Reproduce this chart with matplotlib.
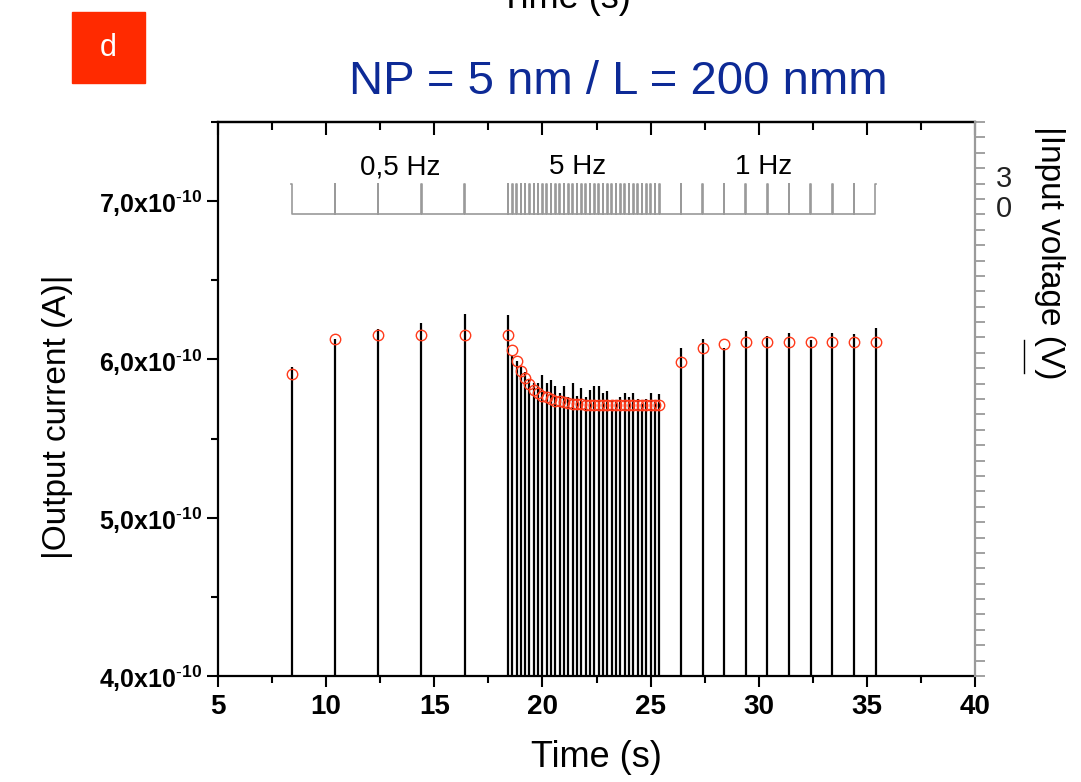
import numpy as np
import matplotlib
matplotlib.use('Agg')
import matplotlib.pyplot as plt
import matplotlib.transforms as mtransforms
from matplotlib.ticker import MultipleLocator, FuncFormatter, FixedLocator, NullFormatter
from matplotlib.lines import Line2D
from matplotlib.patches import Rectangle

plt.rcParams['font.family'] = ['Liberation Sans', 'DejaVu Sans']
plt.rcParams['mathtext.fontset'] = 'custom'
plt.rcParams['mathtext.rm'] = 'Liberation Sans'
plt.rcParams['mathtext.bf'] = 'Liberation Sans:bold'

# pulse times (s)
t_05hz = [8.4, 10.4, 12.4, 14.4, 16.4]
t_5hz = [18.4, 18.6, 18.8, 19.0, 19.2, 19.4, 19.6, 19.8, 20.0, 20.2, 20.4, 20.6,
         20.8, 21.0, 21.2, 21.4, 21.6, 21.8, 22.0, 22.2, 22.4, 22.6, 22.8, 23.0,
         23.2, 23.4, 23.6, 23.8, 24.0, 24.2, 24.4, 24.6, 24.8, 25.0, 25.2, 25.4]
t_1hz = [26.4, 27.4, 28.4, 29.4, 30.4, 31.4, 32.4, 33.4, 34.4, 35.4]

# spike peak currents (x1e-10 A)
peak_05hz = [5.95, 6.13, 6.19, 6.23, 6.29]
peak_5hz = [6.28, 6.02, 5.99, 5.95, 5.92, 5.87, 5.85, 5.85, 5.90, 5.85, 5.87, 5.83,
            5.79, 5.83, 5.76, 5.85, 5.77, 5.82, 5.76, 5.81, 5.835, 5.83, 5.79, 5.80,
            5.74, 5.73, 5.765, 5.79, 5.765, 5.79, 5.75, 5.72, 5.75, 5.785, 5.73, 5.78]
peak_1hz = [6.075, 6.13, 6.07, 6.18, 6.145, 6.17, 6.12, 6.17, 6.16, 6.20]

# fitted / averaged values (red circles, x1e-10 A)
fit_05hz = [5.91, 6.13, 6.155, 6.155, 6.155]
fit_5hz = [6.155, 6.06, 5.99, 5.93, 5.88, 5.845, 5.81, 5.79, 5.77, 5.76, 5.75, 5.74,
           5.735, 5.73, 5.725, 5.72, 5.72, 5.72, 5.715, 5.715, 5.715, 5.715, 5.715, 5.715,
           5.715, 5.715, 5.715, 5.715, 5.715, 5.715, 5.715, 5.715, 5.715, 5.715, 5.715, 5.715]
fit_1hz = [5.985, 6.07, 6.10, 6.11, 6.11, 6.11, 6.11, 6.11, 6.11, 6.11]

pulse_amp = 3.0      # V
pulse_width = 0.03   # s

freq_labels = ['0,5 Hz', '5 Hz', '1 Hz']
freq_label_x = [13.4, 21.6, 30.2]
volt_labels = [0, 3]

times = np.array(t_05hz + t_5hz + t_1hz)
peaks = np.array(peak_05hz + peak_5hz + peak_1hz) * 1e-10
fits = np.array(fit_05hz + fit_5hz + fit_1hz) * 1e-10

ymin, ymax = 4.0e-10, 7.5e-10

fig = plt.figure(figsize=(10.81, 7.82), dpi=100)
ax = fig.add_axes([0.2017, 0.1355, 0.7003, 0.7085])

# current spikes
ax.vlines(times, ymin - 1e-10, peaks, color='black', lw=1.6, zorder=3)
ax.plot(times, fits, 'o', mfc='none', mec='#ff3a1a', ms=7.5, mew=1.0, zorder=4)

ax.set_xlim(5, 40)
ax.set_ylim(ymin, ymax)
ax.xaxis.set_major_locator(MultipleLocator(5))
ax.xaxis.set_minor_locator(MultipleLocator(2.5))
ax.yaxis.set_major_locator(FixedLocator([4e-10, 5e-10, 6e-10, 7e-10]))
ax.yaxis.set_minor_locator(MultipleLocator(0.5e-10))


def yfmt(v, pos):
    s = '%.1f' % (v * 1e10)
    s = s.replace('.', '{,}')
    return r'$\mathbf{%sx10}^{\mathbf{\text{-}10}}$' % s


ax.yaxis.set_major_formatter(FuncFormatter(yfmt))
ax.tick_params(axis='x', which='major', direction='out', length=8, width=1.5,
               labelsize=20, pad=5)
ax.tick_params(axis='x', which='minor', direction='out', length=5, width=1.5)
ax.tick_params(axis='y', which='major', direction='out', length=8, width=1.5,
               labelsize=18, pad=3, right=False)
ax.tick_params(axis='y', which='minor', direction='out', length=5, width=1.5,
               right=False)
for lab in ax.get_xticklabels():
    lab.set_fontweight('bold')
for sp in ['left', 'bottom', 'top']:
    ax.spines[sp].set_linewidth(1.6)
ax.spines['right'].set_visible(False)

top = ax.secondary_xaxis('top')
top.xaxis.set_major_locator(MultipleLocator(5))
top.xaxis.set_minor_locator(MultipleLocator(2.5))
top.xaxis.set_major_formatter(NullFormatter())
top.tick_params(axis='x', which='major', direction='in', length=9, width=1.5)
top.tick_params(axis='x', which='minor', direction='in', length=6, width=1.5)
top.spines['top'].set_linewidth(1.6)

# input voltage trace on twin axis
vt = []
vv = []
for t in times:
    vt += [t - pulse_width / 2, t - pulse_width / 2, t + pulse_width / 2, t + pulse_width / 2]
    vv += [0, pulse_amp, pulse_amp, 0]
ax2 = ax.twinx()
ax2.plot(vt[1:-1], vv[1:-1], color='#9a9a9a', lw=1.2)
ax2.set_ylim(-45, 9)
ax2.yaxis.set_major_locator(MultipleLocator(3))
ax2.yaxis.set_minor_locator(MultipleLocator(1.5))
ax2.yaxis.set_major_formatter(NullFormatter())
ax2.tick_params(axis='y', which='major', direction='out', length=7, width=1.3,
                color='#9a9a9a')
ax2.tick_params(axis='y', which='minor', direction='out', length=7, width=1.3,
                color='#9a9a9a')
for sp in ['left', 'bottom', 'top']:
    ax2.spines[sp].set_visible(False)
ax2.spines['right'].set_color('#9a9a9a')
ax2.spines['right'].set_linewidth(1.6)

# voltage tick labels sit slightly above their ticks, as in Origin
vtrans = mtransforms.offset_copy(
    mtransforms.blended_transform_factory(ax2.transAxes, ax2.transData),
    fig=fig, x=0, y=5, units='dots')
for v in volt_labels:
    ax2.text(1.027, v, str(v), transform=vtrans, fontsize=21, color='#222222',
             ha='left', va='center')

for lab, x in zip(freq_labels, freq_label_x):
    ax.text(x, 7.17e-10, lab, fontsize=20, ha='center', va='baseline')

ax.set_xlabel('Time (s)', fontsize=26, labelpad=14)

# axis titles with Origin-style bars
fig.text(0.053, 0.467, '|Output current (A)|', rotation=90, fontsize=24,
         ha='center', va='center')
fig.text(0.971, 0.677, '|Input voltage (V)', rotation=-90, fontsize=24,
         ha='center', va='center')
fig.add_artist(Line2D([1024 / 1081, 1024 / 1081], [1 - 340 / 782, 1 - 373 / 782],
                      color='black', lw=1.0))

# title and panel tag
fig.text(0.572, 0.895, 'NP = 5 nm / L = 200 nmm', fontsize=34, color='#0d2a96',
         ha='center', va='center')
fig.add_artist(Rectangle((72 / 1081, 1 - 83 / 782), 73 / 1081, 71 / 782,
                         transform=fig.transFigure, color='#ff2a00'))
fig.text(108 / 1081, 1 - 48 / 782, 'd', fontsize=22, color='white',
         ha='center', va='center')

# clipped label of the panel above
fig.text(0.523, 0.99, 'Time (s)', fontsize=26, ha='center', va='baseline')

fig.savefig('out.png', dpi=100)
